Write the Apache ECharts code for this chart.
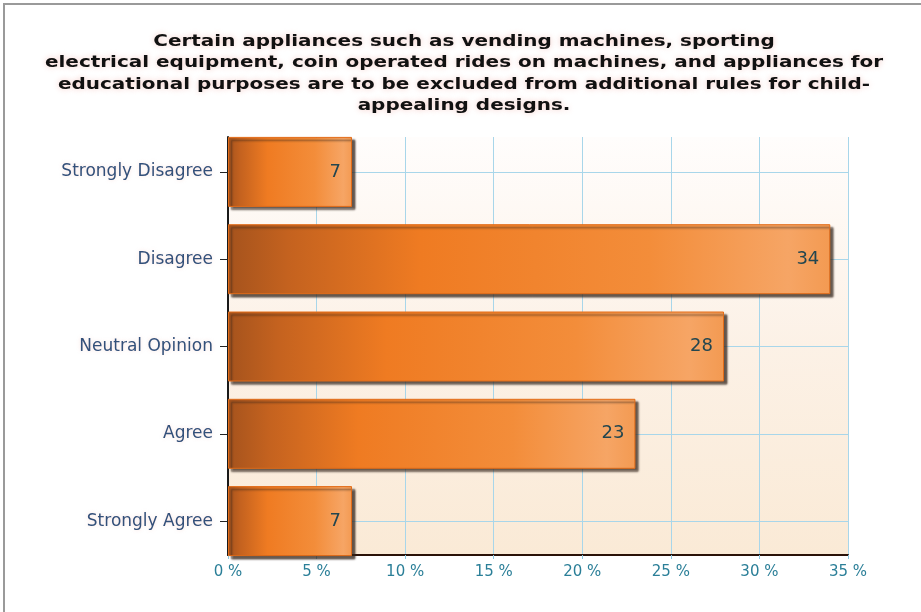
<!DOCTYPE html>
<html>
<head>
<meta charset="utf-8">
<script src="https://cdn.jsdelivr.net/npm/echarts@6/dist/echarts.min.js"></script>
<style>html,body{margin:0;padding:0;background:#fff}#c{width:921px;height:612px}</style>
</head>
<body>
<div id="c"></div>
<script>
const titleLines = [
  'Certain appliances such as vending machines, sporting',
  'electrical equipment, coin operated rides on machines, and appliances for',
  'educational purposes are to be excluded from additional rules for child-',
  'appealing designs.'
];
const categories = ['Strongly Disagree', 'Disagree', 'Neutral Opinion', 'Agree', 'Strongly Agree'];
const values = [7, 34, 28, 23, 7];
const xTicks = { min: 0, max: 35, interval: 5, suffix: ' %' };

const chart = echarts.init(document.getElementById('c'), null, { renderer: 'canvas' });
const barGrad = new echarts.graphic.LinearGradient(0, 0, 1, 0, [
  { offset: 0, color: '#a5531d' },
  { offset: 0.1, color: '#c4621f' },
  { offset: 0.32, color: '#ef7b22' },
  { offset: 0.7, color: '#f38d3a' },
  { offset: 0.93, color: '#f6a565' },
  { offset: 1, color: '#f39a52' }
]);
const option = {
  backgroundColor: '#ffffff',
  animation: false,
  graphic: [
    { type: 'rect', z: -10, silent: true,
      shape: { x: 4, y: 4, width: 940, height: 640 },
      style: { fill: 'none', stroke: '#9a9a9a', lineWidth: 2 } },
    { type: 'text', silent: true, x: 464, y: 30.5, scaleX: 1.21, originX: 0,
      style: {
        text: titleLines.join('\n'),
        fontFamily: 'DejaVu Sans', fontWeight: 'bold', fontSize: 16.5, lineHeight: 21.5,
        fill: '#111', align: 'center', verticalAlign: 'top',
        textShadowColor: 'rgba(235,150,140,0.5)', textShadowBlur: 6
      } }
  ],
  grid: [
    { left: 228, top: 137, width: 620, height: 418, show: true, borderWidth: 0,
      backgroundColor: new echarts.graphic.LinearGradient(0, 0, 0, 1, [
        { offset: 0, color: '#fffdfc' },
        { offset: 0.5, color: '#fcf1e6' },
        { offset: 1, color: '#faead6' }
      ]) },
    { left: 228, top: 128.25, width: 620, height: 436.5 }
  ],
  xAxis: [
    { type: 'value', gridIndex: 0, min: xTicks.min, max: xTicks.max, interval: xTicks.interval,
      axisLine: { show: true, lineStyle: { color: '#2a1208', width: 2 } },
      axisTick: { show: true, length: 4, lineStyle: { color: '#8cc7e0' } },
      axisLabel: { formatter: '{value}' + xTicks.suffix, color: '#2b7f98', fontSize: 15,
        fontFamily: 'DejaVu Sans', margin: 10 },
      splitLine: { show: true, lineStyle: { color: '#a8d6ea', width: 1 } } },
    { type: 'value', gridIndex: 1, min: xTicks.min, max: xTicks.max, show: false }
  ],
  yAxis: [
    { type: 'value', gridIndex: 0, min: 0, max: 1,
      axisLine: { show: true, lineStyle: { color: '#1a1a1a', width: 2 } },
      axisTick: { show: false }, axisLabel: { show: false }, splitLine: { show: false } },
    { type: 'category', gridIndex: 1, data: categories, inverse: true,
      axisLine: { show: false },
      axisTick: { show: true, alignWithLabel: true, length: 8, lineStyle: { color: '#222' } },
      axisLabel: { color: '#33507a', fontSize: 17, fontFamily: 'DejaVu Sans', margin: 15,
        textShadowColor: 'rgba(235,160,150,0.35)', textShadowBlur: 4 },
      splitLine: { show: false } }
  ],
  series: [
    { type: 'line', xAxisIndex: 1, yAxisIndex: 1, data: [], z: 1, silent: true,
      markLine: { silent: true, symbol: 'none', label: { show: false },
        lineStyle: { color: '#a8d6ea', type: 'solid', width: 1 },
        data: categories.map(c => ({ yAxis: c })) } },
    { type: 'bar', xAxisIndex: 1, yAxisIndex: 1, data: values, barWidth: 70, z: 10,
      itemStyle: { color: barGrad, borderColor: '#e26c18', borderWidth: 1,
        shadowColor: 'rgba(50,35,25,0.75)', shadowOffsetX: 3, shadowOffsetY: 3, shadowBlur: 2 },
      label: { show: true, position: 'insideRight', distance: 11, color: '#23464f',
        fontSize: 18, fontFamily: 'DejaVu Sans' } }
  ]
};
chart.setOption(option);
</script>
</body>
</html>
